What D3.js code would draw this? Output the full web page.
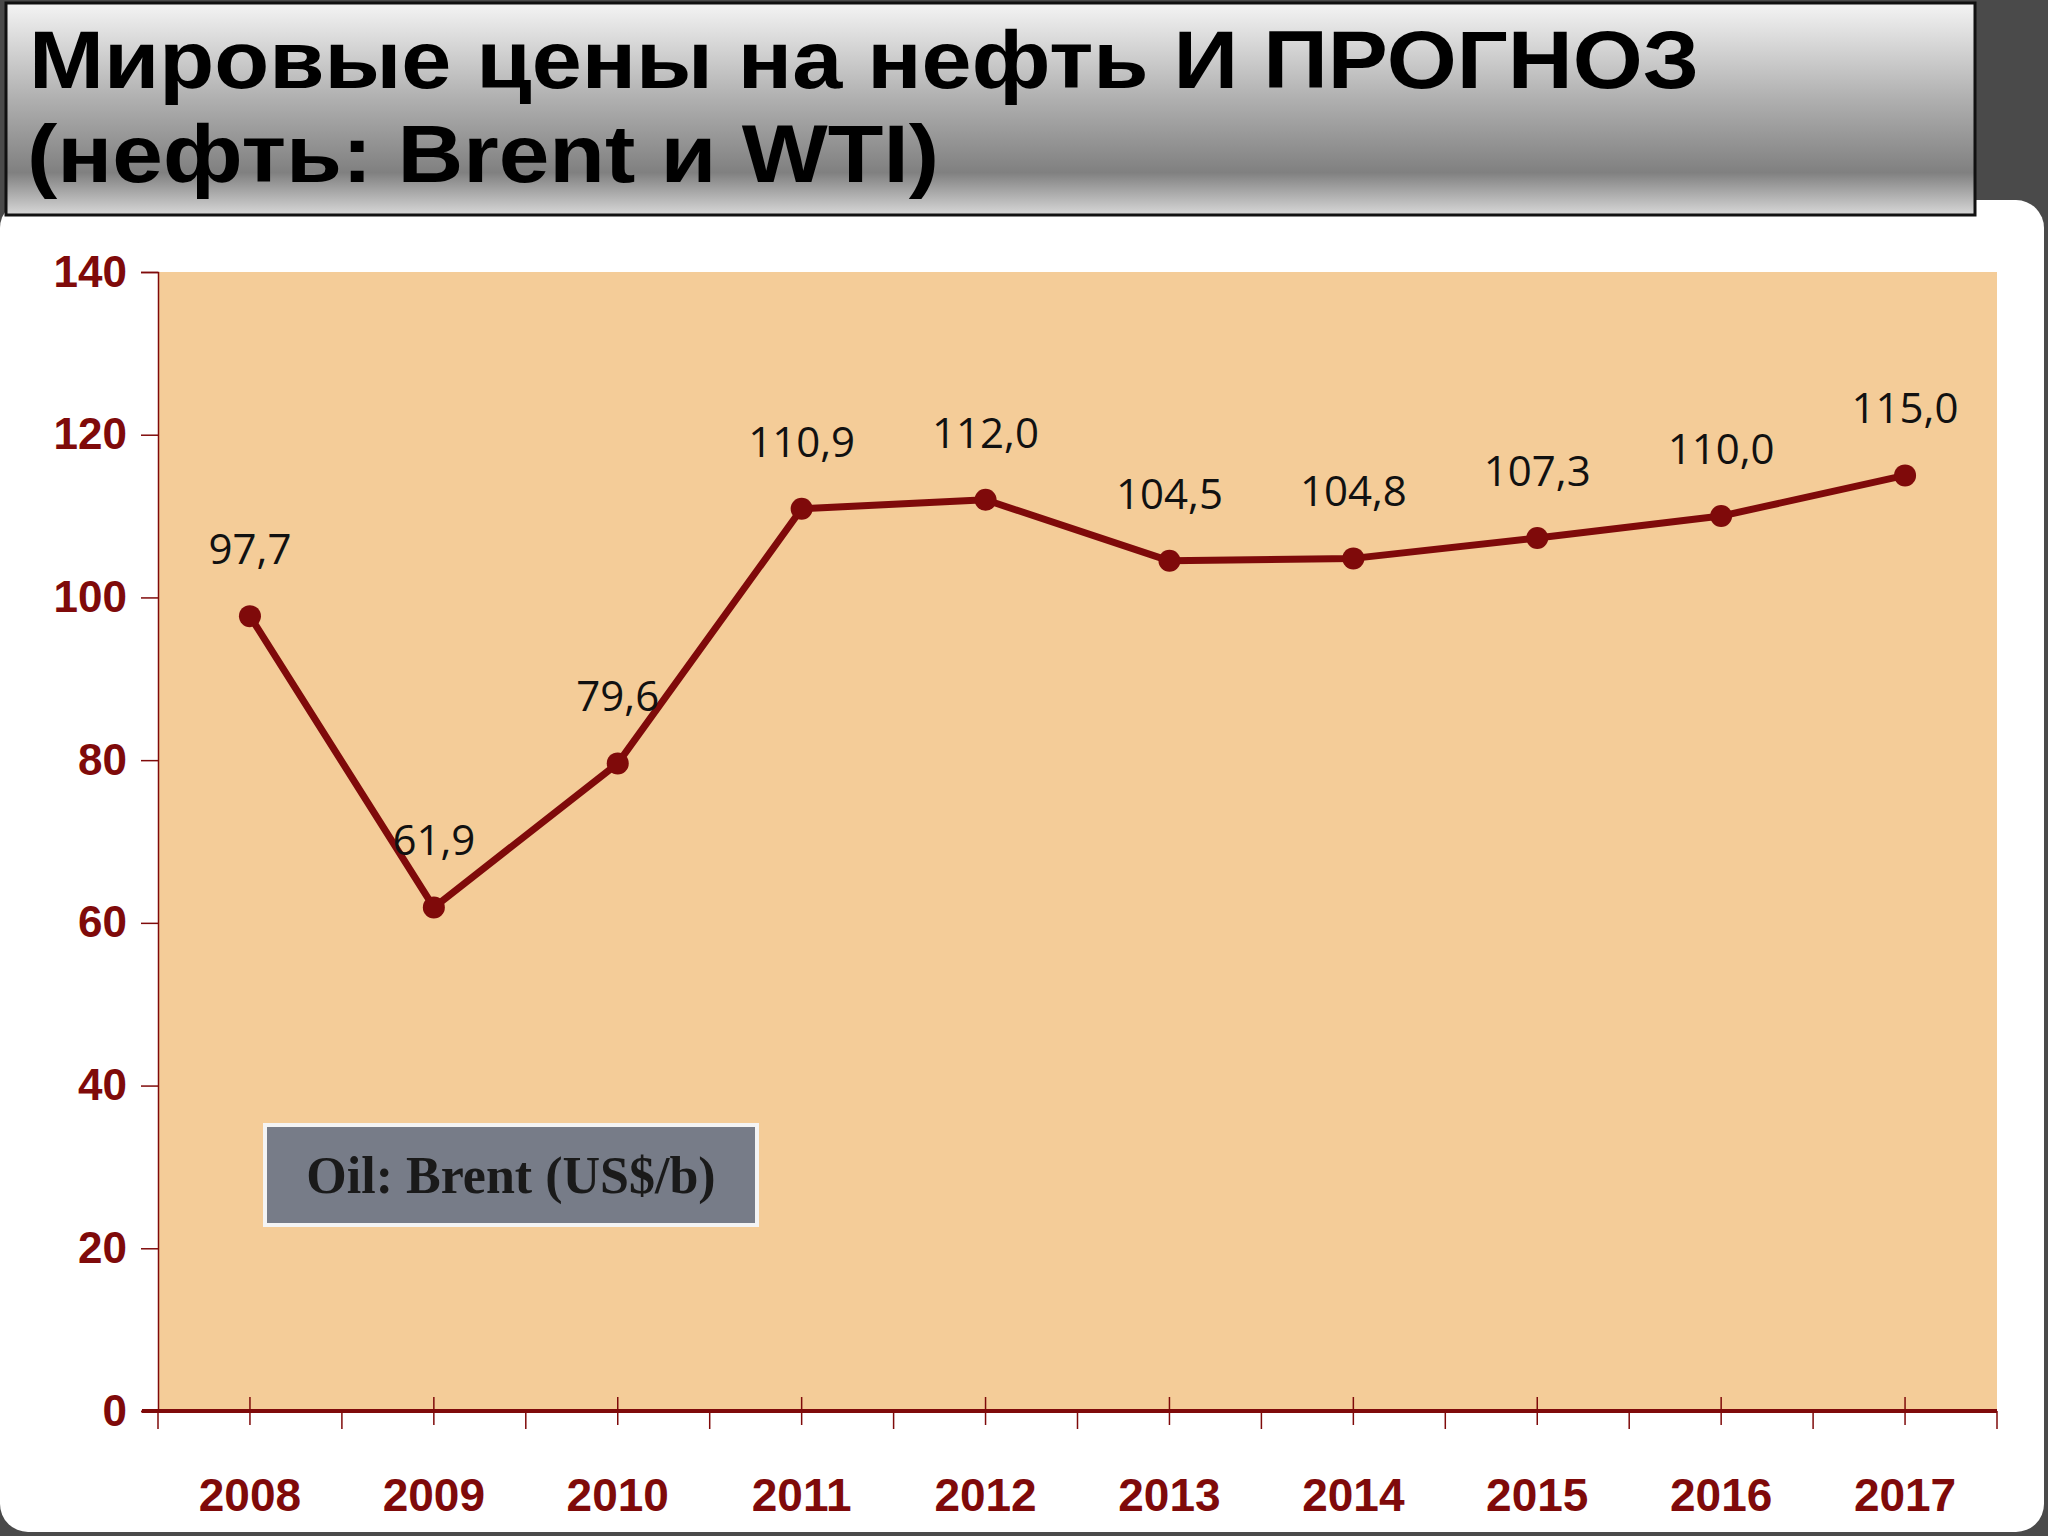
<!DOCTYPE html>
<html><head><meta charset="utf-8">
<script src="https://cdn.jsdelivr.net/npm/d3@7"></script>
<style>body{margin:0;background:#3a3a3a}</style></head>
<body><svg id="c" width="2048" height="1536"></svg>
<script>
const years = ["2008","2009","2010","2011","2012","2013","2014","2015","2016","2017"];
const brent = [97.7,61.9,79.6,110.9,112.0,104.5,104.8,107.3,110.0,115.0];
const yTicks = [0,20,40,60,80,100,120,140];
const titleLines = ["Мировые цены на нефть И ПРОГНОЗ","(нефть: Brent и WTI)"];
const legendText = "Oil: Brent (US$/b)";

const svg = d3.select("#c");
const defs = svg.append("defs");
const g1 = defs.append("linearGradient").attr("id","tg").attr("x1",0).attr("y1",0).attr("x2",0).attr("y2",1);
g1.append("stop").attr("offset","0%").attr("stop-color","#f4f4f4");
g1.append("stop").attr("offset","45%").attr("stop-color","#b0b0b0");
g1.append("stop").attr("offset","80%").attr("stop-color","#808080");
g1.append("stop").attr("offset","100%").attr("stop-color","#d8d8d8");

svg.append("rect").attr("x",0).attr("y",0).attr("width",2048).attr("height",1536).attr("fill","#4a4a4a");
svg.append("rect").attr("x",0).attr("y",200).attr("width",2044).attr("height",1332).attr("rx",28).attr("fill","#ffffff");
svg.append("rect").attr("x",6).attr("y",3).attr("width",1969).attr("height",212).attr("fill","url(#tg)").attr("stroke","#111").attr("stroke-width",3);

const tt = svg.append("g").attr("font-family","Liberation Sans, Arial").attr("font-weight","900").attr("fill","#000");
tt.append("text").attr("x",29).attr("y",88).attr("font-size",82).attr("textLength",1670).attr("lengthAdjust","spacingAndGlyphs").text(titleLines[0]);
tt.append("text").attr("x",27).attr("y",182).attr("font-size",82).attr("textLength",912).attr("lengthAdjust","spacingAndGlyphs").text(titleLines[1]);

const L=158,R=1997,T=272,B=1411;
svg.append("rect").attr("x",L).attr("y",T).attr("width",R-L).attr("height",B-T).attr("fill","#F4CC98");

const x = d3.scaleBand().domain(years).range([L,R]);
const y = d3.scaleLinear().domain([0,140]).range([B,T]);
const red="#7f0a0a";

// y axis
const ya = svg.append("g").attr("transform",`translate(${L},0)`)
 .call(d3.axisLeft(y).tickValues(yTicks).tickSize(17).tickPadding(14));
ya.select(".domain").attr("stroke",red).attr("stroke-width",1.5);
ya.selectAll("line").attr("stroke",red).attr("stroke-width",1.5);
ya.selectAll("text").attr("fill",red).attr("font-family","Liberation Sans Narrow, Liberation Sans").attr("font-weight","bold").attr("font-size",44);

// x axis
const xa = svg.append("g").attr("transform",`translate(0,${B})`);
xa.append("line").attr("x1",L-16).attr("x2",R).attr("y1",0).attr("y2",0).attr("stroke",red).attr("stroke-width",4);
xa.selectAll(".mt").data(years).join("line").attr("x1",d=>x(d)+x.bandwidth()/2).attr("x2",d=>x(d)+x.bandwidth()/2).attr("y1",-14).attr("y2",14).attr("stroke",red).attr("stroke-width",1.5);
xa.selectAll(".bt").data(d3.range(years.length+1)).join("line").attr("x1",i=>L+i*x.bandwidth()).attr("x2",i=>L+i*x.bandwidth()).attr("y1",0).attr("y2",18).attr("stroke",red).attr("stroke-width",1.5);
xa.selectAll("text").data(years).join("text").attr("x",d=>x(d)+x.bandwidth()/2).attr("y",100).attr("text-anchor","middle")
 .attr("fill",red).attr("font-family","Liberation Sans Narrow, Liberation Sans").attr("font-weight","bold").attr("font-size",46).text(d=>d);

const cx = (d,i)=>x(years[i])+x.bandwidth()/2;
svg.append("path").datum(brent).attr("fill","none").attr("stroke",red).attr("stroke-width",7).attr("stroke-linejoin","round")
 .attr("d",d3.line().x(cx).y(d=>y(d)));
svg.selectAll(".pt").data(brent).join("circle").attr("cx",cx).attr("cy",d=>y(d)).attr("r",11).attr("fill",red);
svg.selectAll(".lb").data(brent).join("text").attr("x",cx).attr("y",d=>y(d)-52).attr("text-anchor","middle")
 .attr("font-family","Open Sans, DejaVu Sans").attr("font-size",42).attr("fill","#111").text(d=>d.toFixed(1).replace(".",","));

svg.append("rect").attr("x",265).attr("y",1125).attr("width",492).attr("height",100).attr("fill","#777c88").attr("stroke","#f4f4f4").attr("stroke-width",4);
svg.append("text").attr("x",511).attr("y",1193).attr("text-anchor","middle").attr("font-family","Liberation Serif, Times New Roman").attr("font-weight","bold").attr("font-size",52).attr("fill","#1a1a1a").text(legendText);
</script></body></html>
